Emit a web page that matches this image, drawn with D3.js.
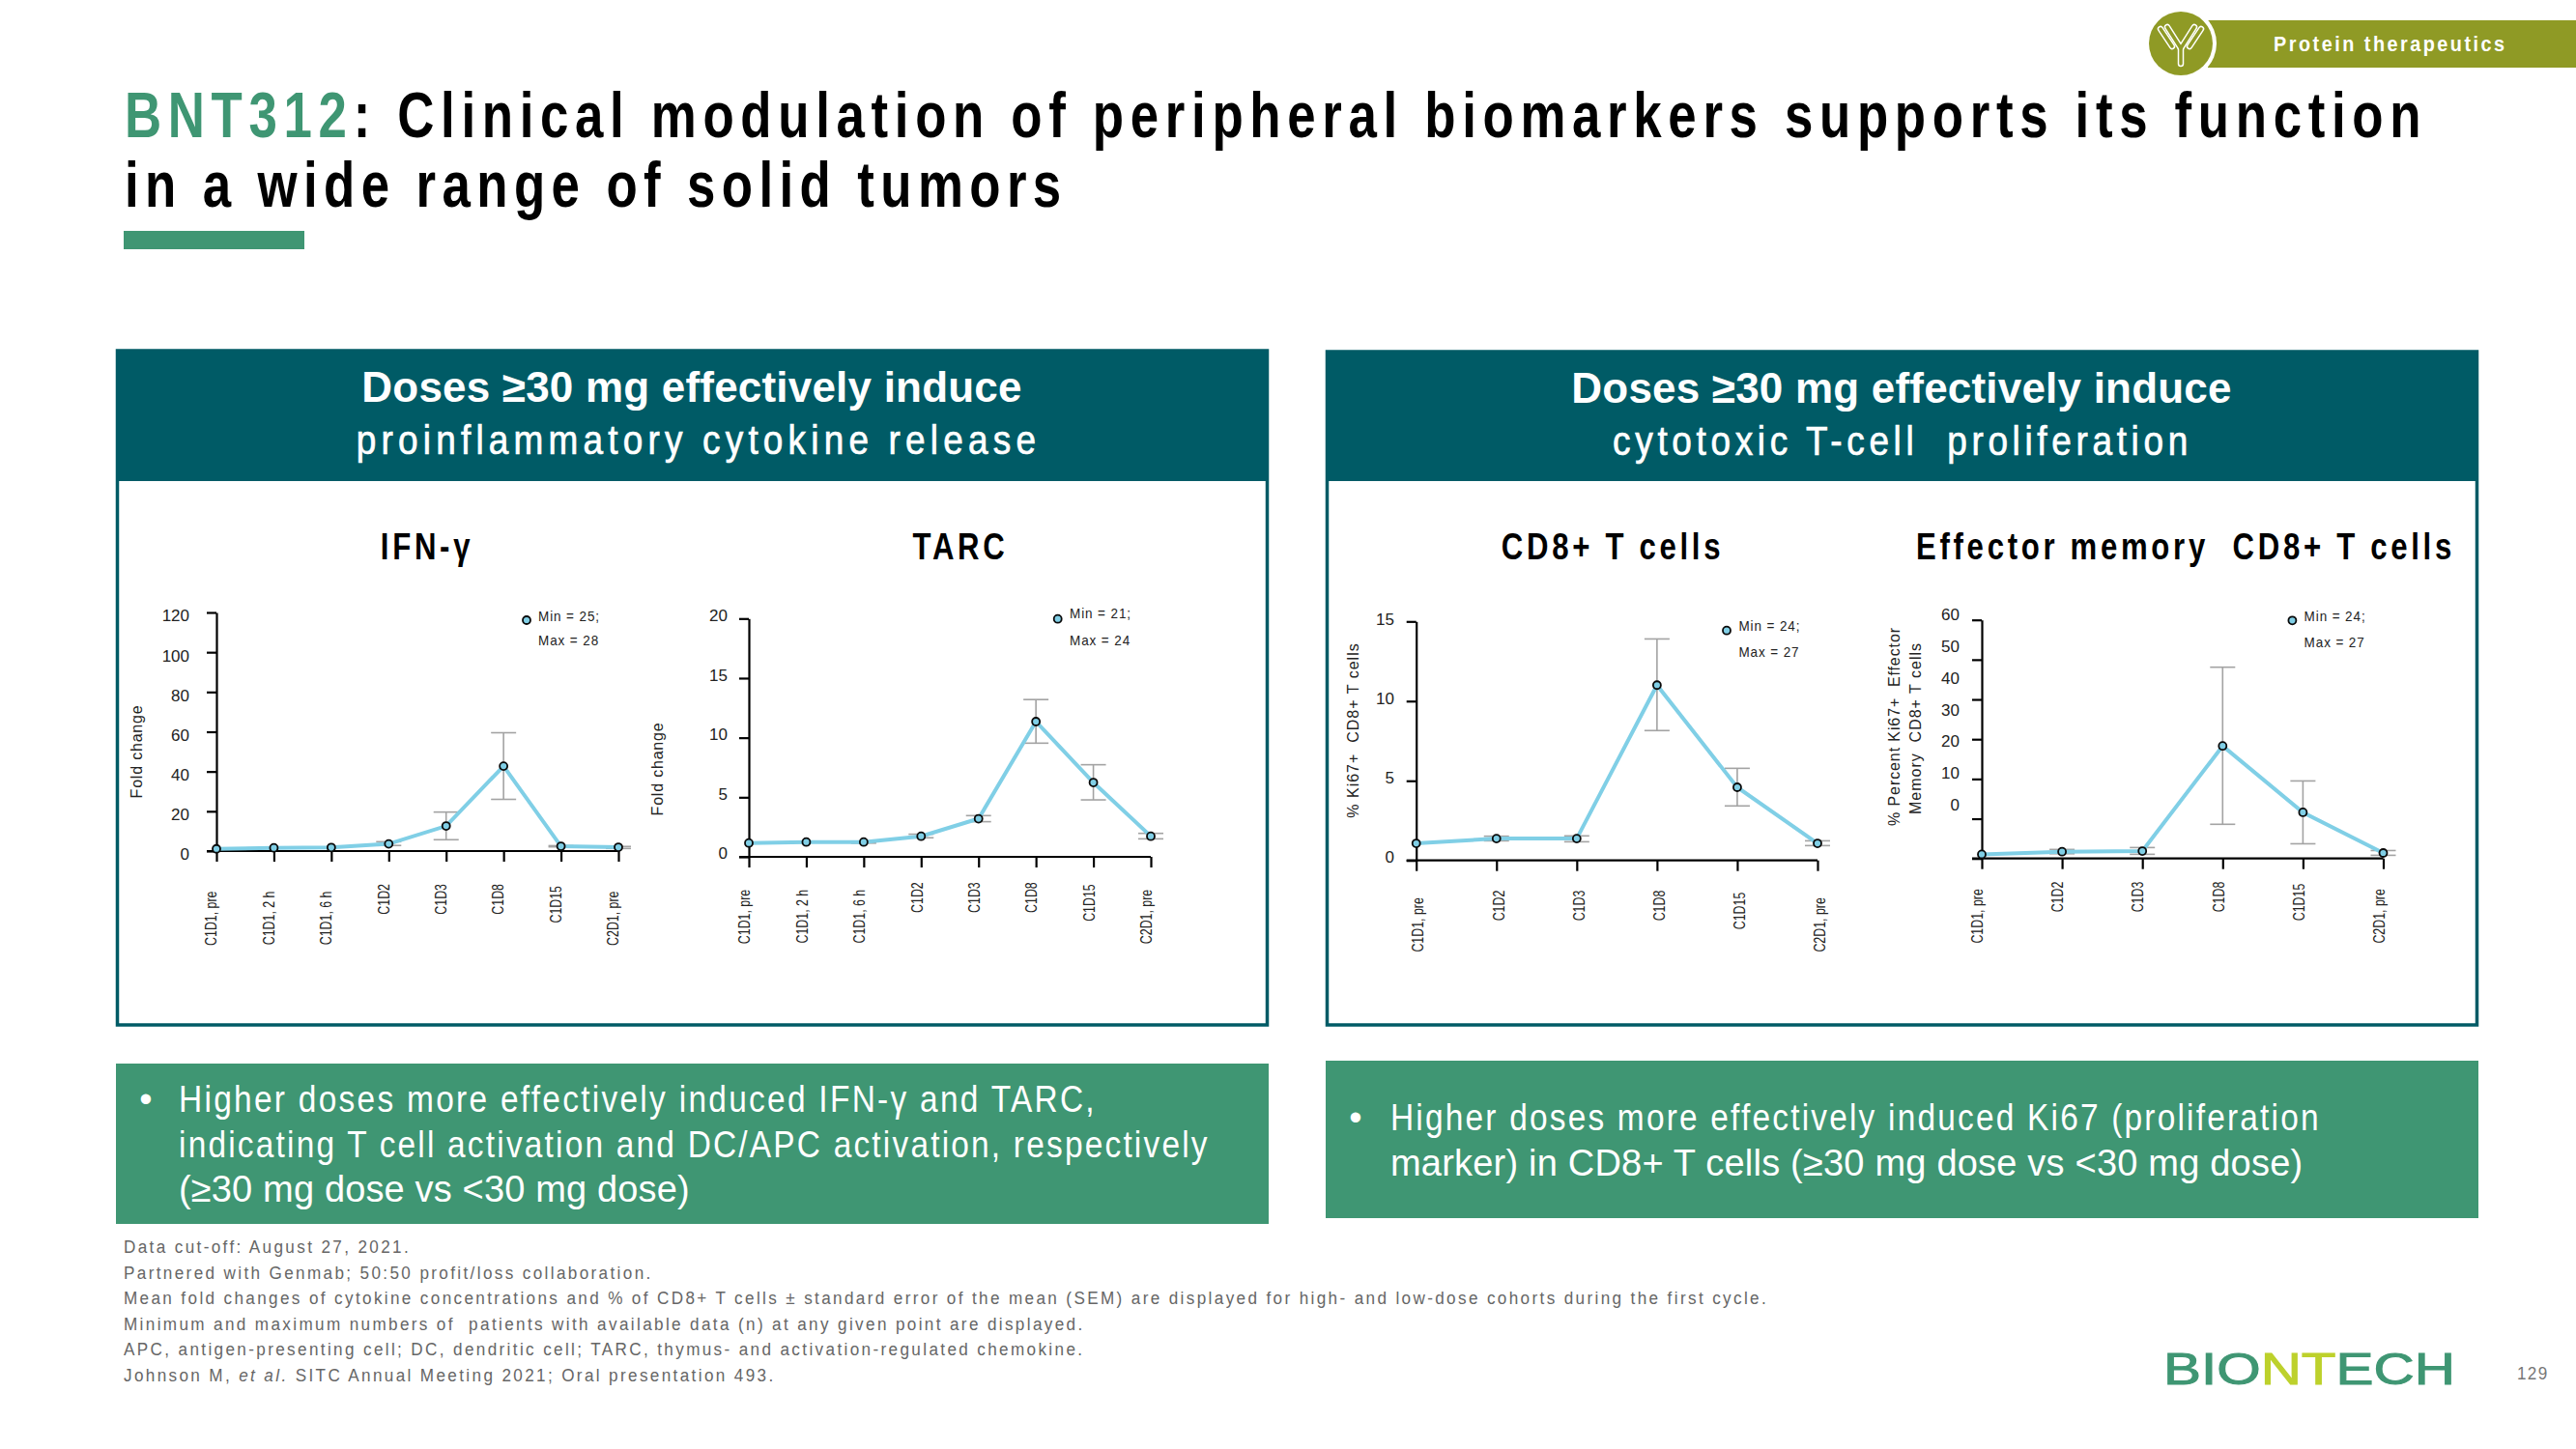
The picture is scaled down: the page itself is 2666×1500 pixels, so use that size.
<!DOCTYPE html>
<html>
<head>
<meta charset="utf-8">
<title>BNT312 biomarkers</title>
<script src="https://cdn.jsdelivr.net/npm/d3@7"></script>
<style>
  html, body { margin: 0; padding: 0; background: #fff; }
  svg { display: block; }
  text { font-family: "Liberation Sans", Arial, sans-serif; white-space: pre; }
</style>
</head>
<body>
<svg id="slide" width="2666" height="1500"></svg>
<script>
// time points on the x axes
const eightPoints = ['C1D1, pre', 'C1D1, 2 h', 'C1D1, 6 h', 'C1D2', 'C1D3', 'C1D8', 'C1D15', 'C2D1, pre'];
const sixPoints = ['C1D1, pre', 'C1D2', 'C1D3', 'C1D8', 'C1D15', 'C2D1, pre'];

// IFN-y
const ifnMean = [1.1, 1.6, 1.8, 3.6, 12.6, 42.7, 2.4, 1.9];
const ifnUpper = [1.1, 1.6, 1.8, 4.7, 19.6, 59.5, 2.7, 2.3];
const ifnLower = [1.1, 1.6, 1.8, 2.8, 5.7, 26.0, 2.1, 1.3];
const ifnTicks = [0, 20, 40, 60, 80, 100, 120];

// TARC
const tarcMean = [1.16, 1.24, 1.24, 1.73, 3.2, 11.35, 6.24, 1.73];
const tarcUpper = [1.16, 1.24, 1.3, 1.9, 3.46, 13.2, 7.73, 1.97];
const tarcLower = [1.16, 1.24, 1.15, 1.6, 2.95, 9.54, 4.78, 1.51];
const tarcTicks = [0, 5, 10, 15, 20];

// % Ki67+ CD8+ T cells
const cd8Mean = [1.07, 1.37, 1.37, 11.0, 4.59, 1.07];
const cd8Upper = [1.07, 1.52, 1.54, 13.9, 5.78, 1.23];
const cd8Lower = [1.07, 1.23, 1.17, 8.15, 3.42, 0.93];
const cd8Ticks = [0, 5, 10, 15];

// % Ki67+ effector memory CD8+ T cells
const emMean = [1.05, 1.7, 1.86, 28.3, 11.6, 1.38];
const emUpper = [1.05, 2.27, 2.75, 48.1, 19.5, 2.0];
const emLower = [1.05, 1.2, 1.05, 8.6, 3.7, 0.8];
const emTicks = [0, 10, 20, 30, 40, 50, 60];

const footnotes = [
  'Data cut-off: August 27, 2021.',
  'Partnered with Genmab; 50:50 profit/loss collaboration.',
  'Mean fold changes of cytokine concentrations and % of CD8+ T cells ± standard error of the mean (SEM) are displayed for high- and low-dose cohorts during the first cycle.',
  'Minimum and maximum numbers of  patients with available data (n) at any given point are displayed.',
  'APC, antigen-presenting cell; DC, dendritic cell; TARC, thymus- and activation-regulated chemokine.'
];

const GREEN = '#3f9673', TEAL = '#005b66', OLIVE = '#8f9a25', LINE = '#80cfe6', GREY = '#a3a3a3', FOOT = '#666';

const svg = d3.select('#slide');

// the slide's text is squeezed sideways and spaced out, sx does the squeeze
function label(parent, x, y, str, o = {}) {
  const t = parent.append('text')
    .attr('transform', `translate(${x},${y}) scale(${o.sx || 1},1)`)
    .attr('font-size', o.size || 18)
    .attr('fill', o.fill || '#000')
    .attr('text-anchor', o.anchor || 'start')
    .attr('letter-spacing', o.spacing || 0)
    .attr('font-weight', o.weight || 'normal')
    .text(str);
  if (o.stroke) t.attr('stroke', o.fill || '#000').attr('stroke-width', o.stroke);
  return t;
}

// ---- slide furniture ----
const title = label(svg, 129, 142, '', { size: 66, weight: 'bold', spacing: 8.35, sx: 0.8 });
title.append('tspan').attr('fill', GREEN).text('BNT312');
title.append('tspan').text(': Clinical modulation of peripheral biomarkers supports its function');
label(svg, 129, 214, 'in a wide range of solid tumors', { size: 66, weight: 'bold', spacing: 8, sx: 0.8 });
svg.append('rect').attr('x', 128).attr('y', 239).attr('width', 187).attr('height', 19).attr('fill', GREEN);

// section tag top right
svg.append('rect').attr('x', 2285).attr('y', 21).attr('width', 381).attr('height', 49).attr('fill', OLIVE);
svg.append('circle').attr('cx', 2257).attr('cy', 45).attr('r', 37).attr('fill', '#fff');
svg.append('circle').attr('cx', 2257).attr('cy', 45).attr('r', 33).attr('fill', OLIVE);
const antibody = [
  [[2257, 66], [2257, 50], [2243, 28]],
  [[2257, 50], [2271, 28]],
  [[2236, 30], [2248, 48]],
  [[2278, 30], [2266, 48]]
];
[{ w: 6.5, c: '#fff' }, { w: 3.5, c: OLIVE }].forEach(s => {
  antibody.forEach(pts => {
    svg.append('path').attr('d', d3.line()(pts)).attr('fill', 'none')
      .attr('stroke', s.c).attr('stroke-width', s.w).attr('stroke-linecap', 'round').attr('stroke-linejoin', 'round');
  });
});
label(svg, 2353, 53, 'Protein therapeutics', { size: 22, weight: 'bold', fill: '#fff', spacing: 2.8, sx: 0.9 });

// panels
function panel(x, top, head1, head2, head2Spacing, head2Dx) {
  svg.append('rect').attr('x', x + 1.5).attr('y', top + 1).attr('width', 1190).attr('height', 1060 - top)
    .attr('fill', '#fff').attr('stroke', TEAL).attr('stroke-width', 3.5);
  svg.append('rect').attr('x', x).attr('y', top).attr('width', 1193).attr('height', 498 - top).attr('fill', TEAL);
  label(svg, x + 596, top + 54, head1, { size: 44, weight: 'bold', fill: '#fff', anchor: 'middle', spacing: 0.2 });
  label(svg, x + 596 + head2Dx, top + 108, head2, { size: 42, fill: '#fff', anchor: 'middle', spacing: head2Spacing, stroke: 0.7, sx: 0.88 });
}
panel(120, 362, 'Doses ≥30 mg effectively induce', 'proinflammatory cytokine release', 5.9, 7);
panel(1372, 363, 'Doses ≥30 mg effectively induce', 'cytotoxic T-cell  proliferation', 5.3, 1);

[[442, 'IFN-γ'], [994, 'TARC'], [1669, 'CD8+ T cells'], [2262, 'Effector memory  CD8+ T cells']].forEach(d => {
  label(svg, d[0], 579, d[1], { size: 38, weight: 'bold', anchor: 'middle', spacing: 4.5, sx: 0.82 });
});

// ---- the four charts ----
function drawChart(c) {
  const x = d3.scalePoint().domain(c.points).range(c.xRange);
  const y = d3.scaleLinear().domain(d3.extent(c.ticks)).range(c.yRange);
  // tick labels do not sit exactly on their ticks in the original
  const yLabel = d3.scaleLinear().domain(d3.extent(c.ticks)).range(c.labelRange);
  const g = svg.append('g');

  const yAxis = g.append('g').attr('transform', `translate(${c.xRange[0]},0)`)
    .call(d3.axisLeft(y).tickValues(c.ticks).tickSizeOuter(0).tickSizeInner(10).tickFormat(''));
  yAxis.selectAll('path,line').attr('stroke', '#000').attr('stroke-width', 2.2);

  const yText = g.append('g').attr('transform', `translate(${c.labelX},0)`)
    .call(d3.axisLeft(yLabel).tickValues(c.ticks).tickSize(0).tickPadding(0));
  yText.select('.domain').remove();
  yText.selectAll('text').attr('font-size', 17).attr('fill', '#222').attr('font-family', '"Liberation Sans"');

  const xAxis = g.append('g').attr('transform', `translate(0,${c.yRange[0]})`)
    .call(d3.axisBottom(x).tickSizeOuter(0).tickSizeInner(11));
  xAxis.select('.domain').attr('d', `M${c.xRange[0] - 10},0H${c.xRange[1]}`);
  xAxis.selectAll('path,line').attr('stroke', '#000').attr('stroke-width', 2.2);
  xAxis.selectAll('text')
    .attr('font-family', '"Liberation Sans"').attr('font-size', 16.5).attr('fill', '#222')
    .attr('text-anchor', 'end').attr('y', 0).attr('dy', '0.35em').attr('x', 0)
    .attr('transform', d => {
      const nudge = d.length > 5 ? 7.5 : d.length > 4 ? 2 : 0;
      return `translate(${c.labelDx},${c.labelTop + nudge}) rotate(-90) scale(0.75,1)`;
    });

  // error bars first, line and dots go over them
  const rows = c.points.map((p, i) => ({ p, m: c.mean[i], hi: c.upper[i], lo: c.lower[i] }));
  const bars = g.append('g').attr('stroke', GREY).attr('stroke-width', 1.6);
  bars.selectAll('.stem').data(rows).join('line').attr('class', 'stem')
    .attr('x1', d => x(d.p)).attr('x2', d => x(d.p)).attr('y1', d => y(d.hi)).attr('y2', d => y(d.lo));
  ['hi', 'lo'].forEach(k => {
    bars.selectAll('.cap-' + k).data(rows.filter(d => d.hi !== d.lo)).join('line').attr('class', 'cap-' + k)
      .attr('x1', d => x(d.p) - 13).attr('x2', d => x(d.p) + 13).attr('y1', d => y(d[k])).attr('y2', d => y(d[k]));
  });

  g.append('path').datum(rows).attr('fill', 'none').attr('stroke', LINE).attr('stroke-width', 4)
    .attr('d', d3.line().x(d => x(d.p)).y(d => y(d.m)));
  g.selectAll('.dot').data(rows).join('circle').attr('class', 'dot')
    .attr('cx', d => x(d.p)).attr('cy', d => y(d.m)).attr('r', 4)
    .attr('fill', LINE).attr('stroke', '#0a0a0a').attr('stroke-width', 1.8);

  // legend
  g.append('circle').attr('cx', c.legend[0]).attr('cy', c.legend[1]).attr('r', 4)
    .attr('fill', LINE).attr('stroke', '#0a0a0a').attr('stroke-width', 1.8);
  label(g, c.legend[2], c.legend[3] + 5, c.legendText[0], { size: 15, fill: '#222', spacing: 1, sx: 0.9 });
  label(g, c.legend[2], c.legend[4] + 5, c.legendText[1], { size: 15, fill: '#222', spacing: 1, sx: 0.9 });

  // y title, one or two rotated lines
  c.axisTitle.forEach(t => {
    label(g, 0, 0, t[0], { size: 16, fill: '#222', anchor: 'middle', spacing: t[3] })
      .attr('transform', `translate(${t[1]},${t[2]}) rotate(-90)`).attr('dy', '0.35em');
  });
}

drawChart({
  points: eightPoints, mean: ifnMean, upper: ifnUpper, lower: ifnLower, ticks: ifnTicks,
  xRange: [224, 640], yRange: [881, 634], labelRange: [884.5, 637.5], labelX: 196,
  labelDx: -6, labelTop: 34, legend: [545, 642, 557, 637.7, 663.3], legendText: ['Min = 25;', 'Max = 28'],
  axisTitle: [['Fold change', 141, 778, 0.8]]
});
drawChart({
  points: eightPoints, mean: tarcMean, upper: tarcUpper, lower: tarcLower, ticks: tarcTicks,
  xRange: [775, 1191], yRange: [887, 640.3], labelRange: [883.5, 637], labelX: 753,
  labelDx: -5, labelTop: 26.3, legend: [1094.7, 640.7, 1107, 635.3, 662.7], legendText: ['Min = 21;', 'Max = 24'],
  axisTitle: [['Fold change', 680, 796, 0.8]]
});
drawChart({
  points: sixPoints, mean: cd8Mean, upper: cd8Upper, lower: cd8Lower, ticks: cd8Ticks,
  xRange: [1465.7, 1881], yRange: [890.7, 643.3], labelRange: [886.7, 641.3], labelX: 1443,
  labelDx: 1.5, labelTop: 31, legend: [1787, 652.7, 1799.4, 647.7, 674.7], legendText: ['Min = 24;', 'Max = 27'],
  axisTitle: [['% Ki67+  CD8+ T cells', 1400, 756, 1.0]]
});
drawChart({
  points: sixPoints, mean: emMean, upper: emUpper, lower: emLower, ticks: emTicks,
  xRange: [2051, 2466.5], yRange: [888.7, 641.7], labelRange: [833.3, 636], labelX: 2028,
  labelDx: -5, labelTop: 24, legend: [2372.4, 642.3, 2384.6, 637.7, 664.7], legendText: ['Min = 24;', 'Max = 27'],
  axisTitle: [['% Percent Ki67+  Effector', 1960.6, 752, 0.9], ['Memory  CD8+ T cells', 1982.8, 754, 1.0]]
});

// ---- takeaway boxes ----
function takeaway(x, y, h, bulletX, textX, lines) {
  svg.append('rect').attr('x', x).attr('y', y).attr('width', 1193).attr('height', h).attr('fill', GREEN);
  label(svg, bulletX, lines[0][1], '•', { size: 38, fill: '#fff', anchor: 'middle' });
  lines.forEach(l => label(svg, textX, l[1], l[0], { size: 38, fill: '#fff', spacing: l[2], sx: l[3] }));
}
takeaway(120, 1101, 166, 151, 185, [
  ['Higher doses more effectively induced IFN-γ and TARC,', 1151, 2.6, 0.88],
  ['indicating T cell activation and DC/APC activation, respectively', 1198, 2.5, 0.88],
  ['(≥30 mg dose vs <30 mg dose)', 1244, 0.15, 1]
]);
takeaway(1372, 1098, 163, 1403, 1439, [
  ['Higher doses more effectively induced Ki67 (proliferation', 1170, 2.5, 0.88],
  ['marker) in CD8+ T cells (≥30 mg dose vs <30 mg dose)', 1217, 0.2, 1]
]);

// ---- footnotes ----
footnotes.forEach((f, i) => {
  label(svg, 128, 1297 + i * 26.5, f, { size: 19, fill: FOOT, spacing: 2.64, sx: 0.9 });
});
const cite = label(svg, 128, 1429.5, '', { size: 19, fill: FOOT, spacing: 2.64, sx: 0.9 });
cite.append('tspan').text('Johnson M, ');
cite.append('tspan').attr('font-style', 'italic').text('et al.');
cite.append('tspan').text(' SITC Annual Meeting 2021; Oral presentation 493.');

// ---- logo and page number ----
const logo = svg.append('text').attr('x', 2239).attr('y', 1433)
  .attr('font-size', 46).attr('textLength', 302).attr('lengthAdjust', 'spacingAndGlyphs')
  .attr('fill', GREEN).attr('stroke', GREEN).attr('stroke-width', 1);
logo.append('tspan').text('BIO');
logo.append('tspan').attr('fill', '#bdd12c').attr('stroke', '#bdd12c').text('NT');
logo.append('tspan').text('ECH');
label(svg, 2605, 1428, '129', { size: 19, fill: '#777', spacing: 1.5, sx: 0.9 });
</script>
</body>
</html>
